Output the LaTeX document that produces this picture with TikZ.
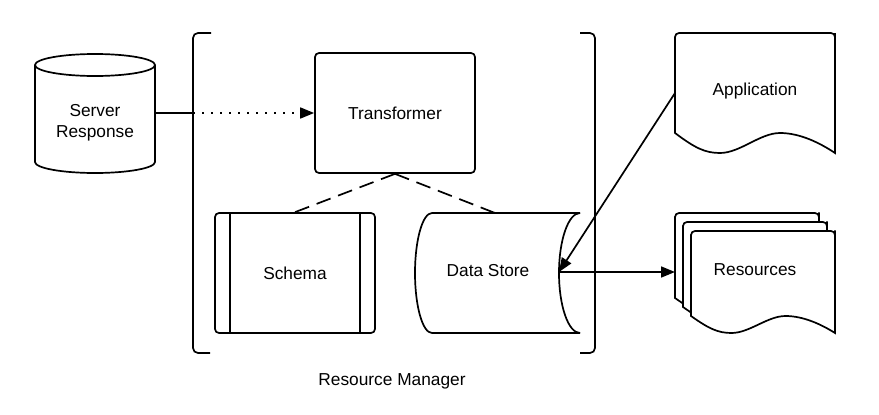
\documentclass[tikz,border=0pt]{standalone}
\usepackage{fontspec}
\setmainfont{Liberation Sans}
\usetikzlibrary{arrows.meta}
\tikzset{
  shapeline/.style={line width=1.7pt},
  textnode/.style={font=\fontsize{17.3}{21.5}\selectfont, align=center, inner sep=0pt},
  tip/.style={-{Triangle[length=14pt, width=11pt]}},
}
% document shape, 160 wide, left side 100 high, right side 120 high
\newcommand{\docshape}{(0,100) -- (0,4) [rounded corners=4] -- (0,0) -- (160,0) -- (160,4) [sharp corners] -- (160,120) .. controls (145,110) and (125,100) .. (105,100) .. controls (85,100) and (65,120) .. (45,120) .. controls (30,120) and (20,115) .. (0,100) -- cycle}

\begin{document}
\begin{tikzpicture}[x=1pt, y=-1pt, shapeline]
\useasboundingbox (0,0) rectangle (879,415);
% \draw [help lines,color=green]  (0,0) grid[step=50] (879,415);
%%%%%%%%%
% server response
\draw (35,65) -- (35,162) arc[start angle=180, end angle=0, x radius=60, y radius=11] -- (155,65);
\draw (95,65) ellipse [x radius=60, y radius=11];
\node [textnode] (srv) at (95,123) {Server\\Response};
\coordinate (srvR) at (155,113);
%%%%%%%%%
% resource manager bracket
\draw [rounded corners=5] (211,33) -- (193,33) -- (193,353) -- (210,353);
\draw [rounded corners=5] (580,33) -- (595,33) -- (595,353) -- (580,353);
\coordinate (cross) at (193,113);
\node [textnode] (mgr) at (392,381) {Resource Manager};
%%%%%%%%%
% transformer and schema
\node [draw, rounded corners=4, minimum width=160pt, minimum height=120pt, textnode] (trans) at (395,113) {Transformer};
\node [draw, rounded corners=4, minimum width=160pt, minimum height=120pt, textnode] (schema) at (295,273) {Schema};
\draw ([xshift=16pt]schema.north west) -- ([xshift=16pt]schema.south west);
\draw ([xshift=-16pt]schema.north east) -- ([xshift=-16pt]schema.south east);
%%%%%%%%%
% data store
\draw (580,213) -- (432,213) arc[start angle=270, end angle=90, x radius=17, y radius=60] -- (580,333);
\draw (580,213) arc[start angle=270, end angle=90, x radius=21, y radius=60];
\node [textnode] (store) at (488,271) {Data Store};
\coordinate (storeR) at (559,272);
\coordinate (storeT) at (495,213);
%%%%%%%%%
% application
\begin{scope}[shift={(675,33)}]
\draw \docshape;
\end{scope}
\node [textnode] (app) at (755,91) {Application};
\coordinate (appL) at (675,93);
%%%%%%%%%
% resources
\foreach \dx/\dy in {675/213, 683/222, 691/231} {
\begin{scope}[shift={(\dx,\dy)}, xscale=0.9, yscale=0.85]
\draw [fill=white] \docshape;
\end{scope}
}
\node [textnode] (res) at (755,270) {Resources};
\coordinate (resL) at (675,272);
%%%%%%%%%
% connectors
\draw (srvR) -- (cross);
\draw [tip, dash pattern=on 1.7pt off 7.3pt] (cross) -- (trans.west);
\draw [dash pattern=on 15pt off 8pt] (trans.south) -- (schema.north);
\draw [dash pattern=on 15pt off 8pt] (trans.south) -- (storeT);
\draw [tip] (appL) -- (storeR);
\draw [tip] (storeR) -- (resL);
\end{tikzpicture}
\end{document}
